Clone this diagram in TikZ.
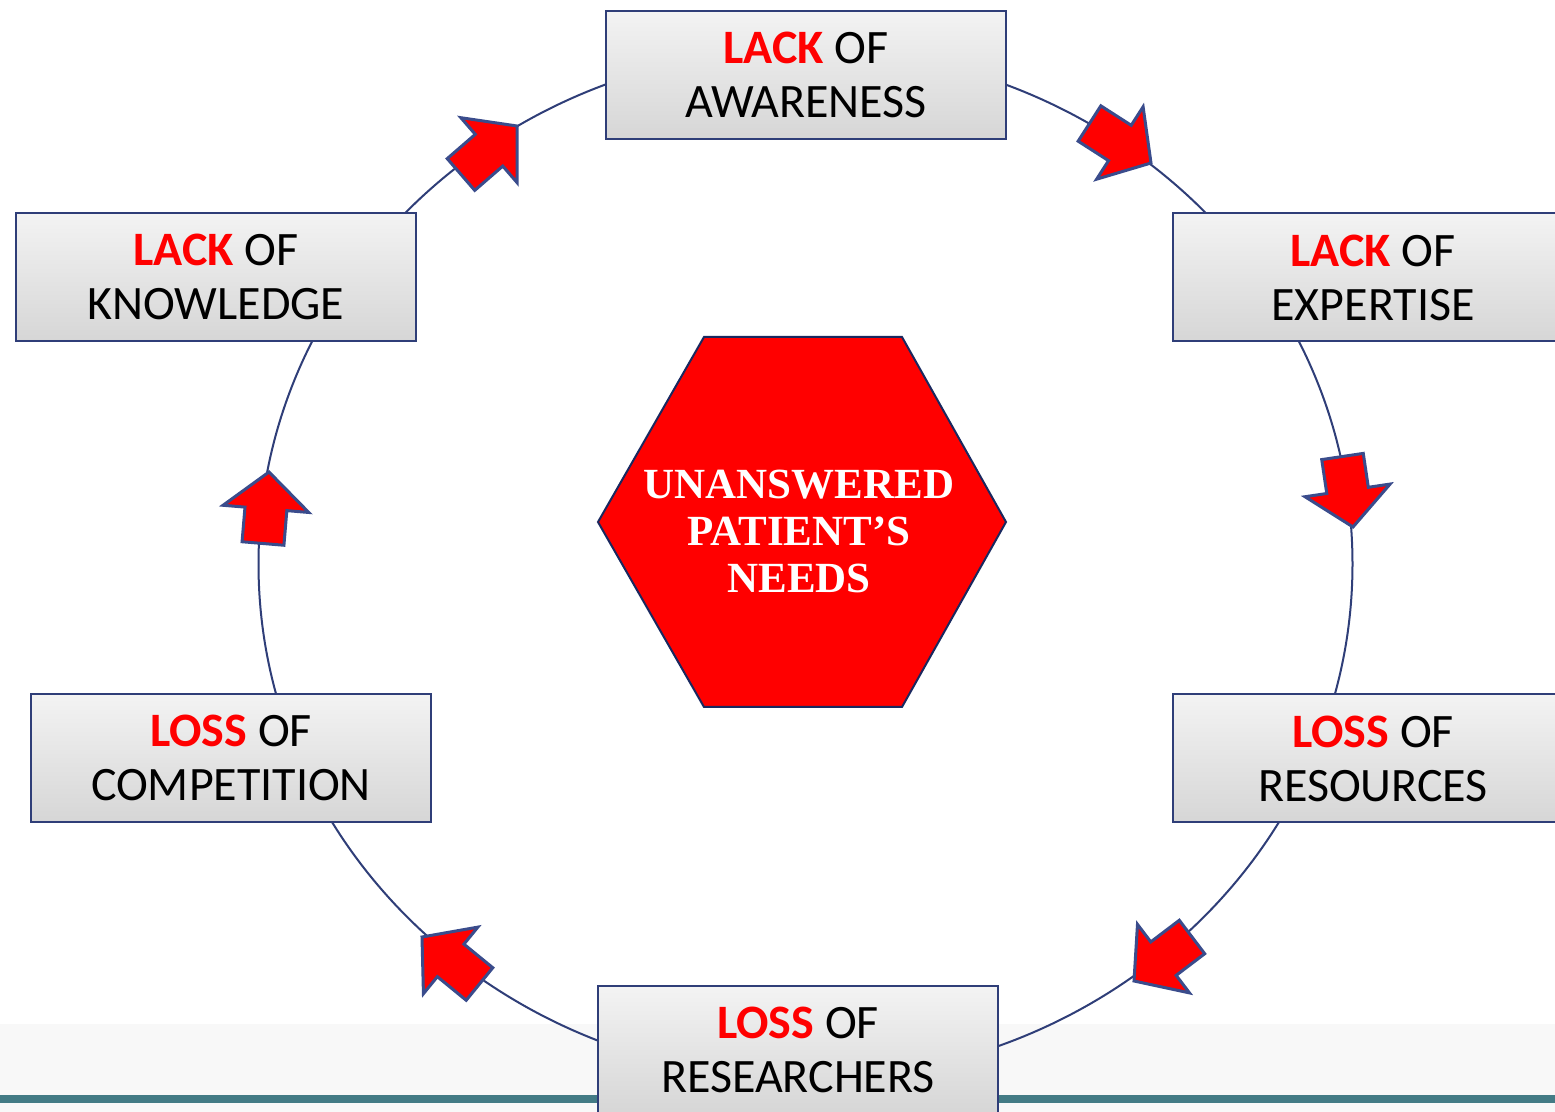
\documentclass[tikz,border=0pt]{standalone}
\usepackage{fontspec}
\usetikzlibrary{calc}
\newfontfamily\boxfont{Carlito}
\newfontfamily\hexfont{Liberation Serif}
\definecolor{navy}{RGB}{47,62,120}
\definecolor{hexline}{RGB}{25,40,95}
\definecolor{arrline}{RGB}{58,76,140}
\definecolor{tealline}{RGB}{67,123,133}
\definecolor{band}{RGB}{248,248,248}
\definecolor{pred}{RGB}{255,0,0}
\definecolor{boxtop}{RGB}{243,243,243}
\definecolor{boxbot}{RGB}{214,214,214}
\newcommand\hl[1]{\textcolor{pred}{\textbf{#1}}}
\newcommand\blockarrow[2]{%
  \path (#1) coordinate (T) (#2) coordinate (P);
  \path ($(P)!18.5pt!(T)$) coordinate (H);
  \filldraw[arrowstyle] ($(T)!10.5pt!90:(P)$) -- ($(H)!10.5pt!90:(P)$) -- ($(H)!21.5pt!90:(P)$) -- (P)
    -- ($(H)!21.5pt!-90:(P)$) -- ($(H)!10.5pt!-90:(P)$) -- ($(T)!10.5pt!-90:(P)$) -- cycle;}
\tikzset{
  cbox/.style={draw=navy, line width=1pt, top color=boxtop, bottom color=boxbot,
    minimum width=200pt, minimum height=64pt, inner sep=0pt, align=center,
    font=\boxfont\fontsize{24}{27}\selectfont},
  arrowstyle/.style={fill=pred, draw=arrline, line width=1.5pt, line join=miter},
  ring/.style={draw=navy, line width=1pt},
}
\begin{document}
\begin{tikzpicture}[x=0.5pt,y=-0.5pt]
\useasboundingbox (0,0) rectangle (1555,1112);
\clip (0,0) rectangle (1555,1112);
\fill[white] (0,0) rectangle (1555,1112);
\fill[band] (0,1024) rectangle (1555,1112);
\fill[tealline] (0,1095) rectangle (1555,1103);
% ring
\draw[ring] (805.5,564) ellipse [x radius=273.5pt, y radius=257.5pt];
% boxes
\node[cbox] (aware) at (806,75) {\hl{LACK} OF\\AWARENESS};
\node[cbox] (exper) at (1373,277.5) {\hl{LACK} OF\\EXPERTISE};
\node[cbox] (resou) at (1373,758.5) {\hl{LOSS} OF\\RESOURCES};
\node[cbox] (resea) at (798,1050) {\hl{LOSS} OF\\RESEARCHERS};
\node[cbox] (compe) at (231,758) {\hl{LOSS} OF\\COMPETITION};
\node[cbox] (knowl) at (216,277) {\hl{LACK} OF\\KNOWLEDGE};
% hexagon
\draw[fill=pred, draw=hexline, line width=1pt] (598,522) -- (704,337) -- (902,337) -- (1006,522) -- (902,707) -- (704,707) -- cycle;
\node[text=white, inner sep=0pt, align=center, font=\hexfont\bfseries\fontsize{21.5}{23.5}\selectfont] (core) at (799,531.5) {UNANSWERED\\PATIENT’S\\NEEDS};
% arrows
\blockarrow{1089.5,123.5}{1151,163}
\blockarrow{1342.5,456.5}{1353,527}
\blockarrow{1192,937}{1134,981}
\blockarrow{479.5,984}{422,937}
\blockarrow{263,543.5}{269,472}
\blockarrow{461,174.5}{517,126}
\end{tikzpicture}
\end{document}
